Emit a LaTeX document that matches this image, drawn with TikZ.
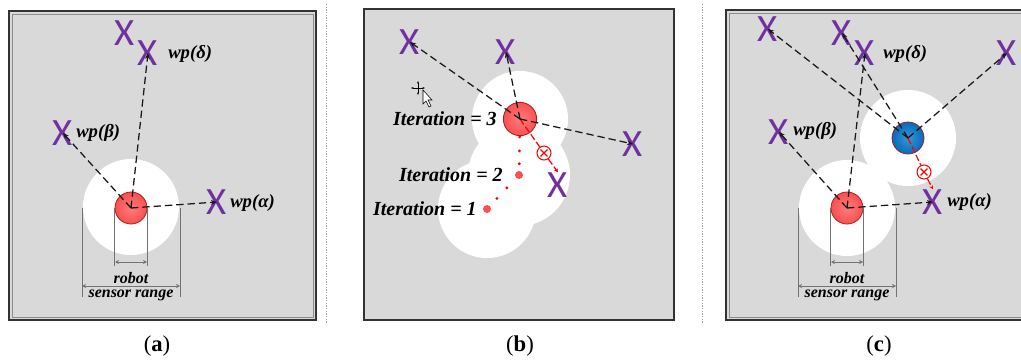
\documentclass[tikz,border=0pt]{standalone}
\usepackage{fontspec}
\setmainfont{Liberation Serif}
\newfontfamily\xmarkfont{Carlito}
\usetikzlibrary{calc,arrows.meta}
\definecolor{rgray}{RGB}{217,217,217}
\definecolor{rpurple}{RGB}{112,48,160}
\definecolor{rred}{RGB}{250,80,80}
\definecolor{rdred}{RGB}{170,30,30}
\definecolor{rblue}{RGB}{0,110,190}
\definecolor{rdblue}{RGB}{10,50,110}

\begin{document}
\begin{tikzpicture}[
  x=0.75pt, y=-0.75pt,
  rframe/.style={draw=black!80, line width=1pt},
  rframein/.style={draw=black!45, line width=0.45pt},
  rsep/.style={draw=black!35, line width=0.5pt, dash pattern=on 1pt off 1pt},
  rwp/.style={text=rpurple, font=\xmarkfont\fontsize{29}{29}\selectfont, inner sep=0pt},
  rlab/.style={font=\fontsize{14}{16}\selectfont\bfseries\itshape, inner sep=0pt, anchor=west},
  ritl/.style={font=\fontsize{15}{16}\selectfont\bfseries\itshape, inner sep=0pt, anchor=east},
  rbot/.style={circle, minimum size=24pt, inner sep=0pt, draw=rdred, line width=0.6pt,
               inner color=rred!75!white, outer color=rred},
  rbotb/.style={rbot, draw=rdred, inner color=rblue!75!white, outer color=rblue},
  rdot/.style={circle, minimum size=6pt, inner sep=0pt, fill=rred},
  rtgt/.style={circle, minimum size=10.5pt, inner sep=0pt, draw=red, line width=0.8pt, fill=white,
               path picture={\draw[red, line width=0.9pt]
                 ([shift={(-2.6pt,-2.6pt)}]path picture bounding box.center) -- ([shift={(2.6pt,2.6pt)}]path picture bounding box.center)
                 ([shift={(-2.6pt,2.6pt)}]path picture bounding box.center) -- ([shift={(2.6pt,-2.6pt)}]path picture bounding box.center);}},
  rarr/.style={-{Stealth[length=4.5pt,width=3.6pt]}, line width=0.95pt, draw=black!90, dash pattern=on 5.5pt off 3pt},
  rpath/.style={line width=0.9pt, draw=red, dash pattern=on 5pt off 2pt},
  rdim/.style={draw=black!55, line width=0.5pt},
  rdimarr/.style={rdim, {Stealth[length=3pt,width=3pt]}-{Stealth[length=3pt,width=3pt]}},
  rdimtxt/.style={font=\fontsize{12}{13}\selectfont\bfseries\itshape, inner sep=0pt, anchor=base},
  rcap/.style={font=\fontsize{17}{19}\selectfont},
]
  \useasboundingbox (0,0) rectangle (1021,361);
  % panels and separators
  \path[fill=rgray, rframe] (9,11) rectangle (316,320);
  \draw[rframein] (12,14) rectangle (313,317);
  \path[fill=rgray, draw=black!80, line width=1.2pt] (364,9) rectangle (674,320);
  \fill[rgray] (726,10) rectangle (1025,320);
  \draw[rframe] (1025,10) -- (726,10) -- (726,320) -- (1025,320);
  \draw[rframein] (1025,13) -- (729,13) -- (729,317) -- (1025,317);
  \draw[rsep] (326,4) -- (326,323);
  \draw[rsep] (702,4) -- (702,323);

  % 1. panel (a): one robot
  \fill[white] (131,207) circle (48);
  \node[rwp] (xa1) at (125,33) {X};
  \node[rwp] (xa2) at (148,53) {X};
  \node[rwp] (xa3) at (63,133) {X};
  \node[rwp] (xa4) at (217,202) {X};
  \node[rlab] (la2) at (168,54) {wp(δ)};
  \node[rlab] (la3) at (76,133) {wp(β)};
  \node[rlab] (la4) at (230,203) {wp(α)};
  \node[rbot] (ra) at (131,208) {};
  \foreach \x in {xa2,xa3,xa4} \draw[rarr] (ra.center) -- (\x.center);

  % 2. panel (b): iterations
  \fill[white] (520,119) circle (48) (519,175) circle (51) (487,209) circle (49);
  \node[rwp] (xb1) at (410,42) {X};
  \node[rwp] (xb2) at (506,52) {X};
  \node[rwp] (xb3) at (633,144) {X};
  \node[rwp] (xb4) at (558,185) {X};
  \node[rdot] (it1) at (487,209) {};
  \node[rdot] (it2) at (519,175) {};
  \node[rbot, minimum size=25pt] (rb) at (520,119) {};
  \node[ritl] (lit3) at (497,119) {Iteration = 3};
  \node[ritl] (lit2) at (503,175) {Iteration = 2};
  \node[ritl] (lit1) at (477,209) {Iteration = 1};
  \foreach \t in {0.31,0.62} \fill[red] ($(it1)!\t!(it2)$) circle (1.6);
  \foreach \t in {0.2,0.43,0.68} \fill[red] ($(it2)!\t!(rb)$) circle (1.6);
  \node[rtgt] (tb) at (544,153) {};
  \draw[rpath] (rb.center) -- (tb);
  \draw[rpath, -{Stealth[length=3pt,width=3pt]}] (tb) -- (xb4.north);
  \foreach \x in {xb1,xb2,xb3} \draw[rarr] (rb.center) -- (\x.center);
  % cursor
  \draw[line width=0.5pt, {Stealth[length=2pt]}-{Stealth[length=2pt]}] (411,88) -- (425,88);
  \draw[line width=0.5pt, {Stealth[length=2pt]}-{Stealth[length=2pt]}] (418,81) -- (418,95);
  \filldraw[fill=white, draw=black, line width=0.4pt]
    (423,90) -- (423,104) -- (426,101) -- (429,107) -- (431,106) -- (428,100) -- (432,100) -- cycle;

  % 3. panel (c): two robots
  \fill[white] (847,208) circle (48) (908,138) circle (48);
  \node[rwp] (xc1) at (768,29) {X};
  \node[rwp] (xc2) at (842,33) {X};
  \node[rwp] (xc3) at (865,53) {X};
  \node[rwp] (xc4) at (779,132) {X};
  \node[rwp] (xc5) at (1007,53) {X};
  \node[rwp] (xc6) at (933,202) {X};
  \node[rlab] (lc3) at (883,54) {wp(δ)};
  \node[rlab] (lc4) at (793,131) {wp(β)};
  \node[rlab] (lc6) at (947,202) {wp(α)};
  \node[rbot] (rc) at (847,208) {};
  \node[rbotb] (rcb) at (908,138) {};
  \node[rtgt] (tc) at (924,172) {};
  \draw[rpath] (rcb.center) -- (tc);
  \draw[rpath, -{Stealth[length=3pt,width=3pt]}] (tc) -- (xc6.north);
  \foreach \x in {xc3,xc4,xc6} \draw[rarr] (rc.center) -- (\x.center);
  \foreach \x in {xc1,xc2,xc5} \draw[rarr] (rcb.center) -- (\x.center);

  % sensor range marks
  \foreach \r in {ra,rc} {
    \draw[rdim] (\r.west) -- ++(0,58) (\r.east) -- ++(0,58);
    \draw[rdim] ($(\r)+(-49,0)$) -- ++(0,89) ($(\r)+(49,0)$) -- ++(0,89);
    \draw[rdimarr] ($(\r)+(-16,54)$) -- ($(\r)+(16,54)$);
    \draw[rdimarr] ($(\r)+(-49,78)$) -- ($(\r)+(49,78)$);
    \node[rdimtxt] at ($(\r)+(0,75)$) {robot};
    \node[rdimtxt] at ($(\r)+(0,89)$) {sensor range};
  }

  % captions
  \node[rcap] (capa) at (157,346) {(\textbf{a})};
  \node[rcap] (capb) at (520,346) {(\textbf{b})};
  \node[rcap] (capc) at (879,346) {(\textbf{c})};
\end{tikzpicture}
\end{document}
